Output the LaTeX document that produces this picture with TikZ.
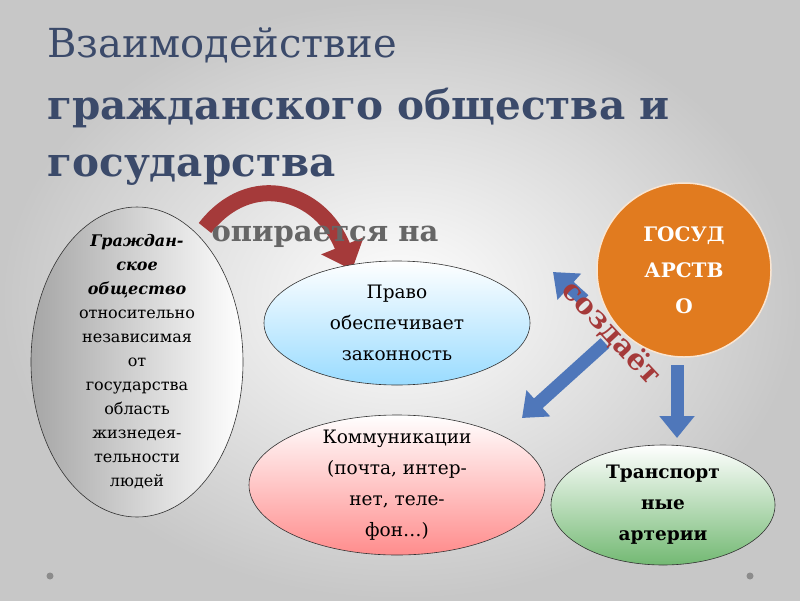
\documentclass[tikz,border=0pt]{standalone}
\usepackage{fontspec}
\setmainfont{DejaVu Serif}
\usetikzlibrary{arrows.meta,shadings}
\definecolor{titc}{HTML}{3B4A6A}
\definecolor{blu}{HTML}{4F77BA}
\definecolor{orng}{HTML}{E17B1F}
\definecolor{rdd}{HTML}{A53A3A}
\tikzset{
 ell/.style={draw=black!80,line width=0.6pt},
 txt/.style={align=center,font=\fontsize{18.5}{31}\selectfont},
 barr/.style={line width=13pt,color=blu,-{Triangle[width=34pt,length=22pt]}},
}
\begin{document}
\begin{tikzpicture}[x=1pt,y=-1pt]
\shade[inner color=white,outer color=black!22] (0,0) rectangle (800,600);
\useasboundingbox (0,0) rectangle (800,600);
\node[anchor=west,text=titc,font=\fontsize{40}{44}\selectfont] (t1) at (44,45) {Взаимодействие};
\node[anchor=west,text=titc,font=\bfseries\fontsize{40.5}{44}\selectfont] (t2) at (44,108) {гражданского общества и};
\node[anchor=west,text=titc,font=\bfseries\fontsize{40.5}{44}\selectfont] (t3) at (44,170) {государства};
% red curved arrow
\draw[rdd,line width=16pt,-{Triangle[width=44pt,length=26pt]}] (205,228) .. controls (250,170) and (320,190) .. (352,270);
\node[text=black!60,font=\bfseries\fontsize{29}{34}\selectfont] (op) at (325,237) {опирается на};
% left ellipse
\shade[ell,left color=black!35,right color=white] (137,362) ellipse [x radius=106,y radius=155];
\node[txt,font=\fontsize{16}{24}\selectfont] (lg) at (137,362) {\textbf{\textit{Граждан-}}\\\textbf{\textit{ское}}\\\textbf{\textit{общество}}\\относительно\\независимая\\от\\государства\\область\\жизнедея-\\тельности\\людей};
% pravo
\shade[ell,top color=white,bottom color=blue!35!cyan!40] (397,323) ellipse [x radius=133,y radius=62];
\node[txt] (pr) at (397,323) {Право\\обеспечивает\\законность};
% komm
\shade[ell,top color=white,bottom color=red!45] (397,485) ellipse [x radius=148,y radius=70];
\node[txt] (km) at (397,485) {Коммуникации\\(почта, интер-\\нет, теле-\\фон…)};
% transport
\shade[ell,top color=white,bottom color=green!50!black!55] (663,505) ellipse [x radius=112,y radius=60];
\node[txt,font=\bfseries\fontsize{18.5}{31}\selectfont] (tr) at (663,505) {Транспорт\\ные\\артерии};
% state
\fill[orng,draw=white!80!orng,line width=1.5pt] (684,270) circle (87);
\node[txt,text=white,font=\bfseries\fontsize{20}{36}\selectfont] (st) at (684,270) {ГОСУД\\АРСТВ\\О};
% blue arrows
\coordinate (a1s) at (584,300); \coordinate (a1e) at (553,272);
\coordinate (a2s) at (605,343); \coordinate (a2e) at (522,418);
\coordinate (a3s) at (677,365); \coordinate (a3e) at (677,438);
\draw[barr] (a1s) -- (a1e);
\draw[barr] (a2s) -- (a2e);
\draw[barr] (a3s) -- (a3e);
\node[text=rdd,rotate=-47,font=\bfseries\fontsize{29}{34}\selectfont] (cz) at (612,333) {создаёт};
\fill[black!45] (50,576) circle (3.5) (750,576) circle (3.5);
\end{tikzpicture}
\end{document}
